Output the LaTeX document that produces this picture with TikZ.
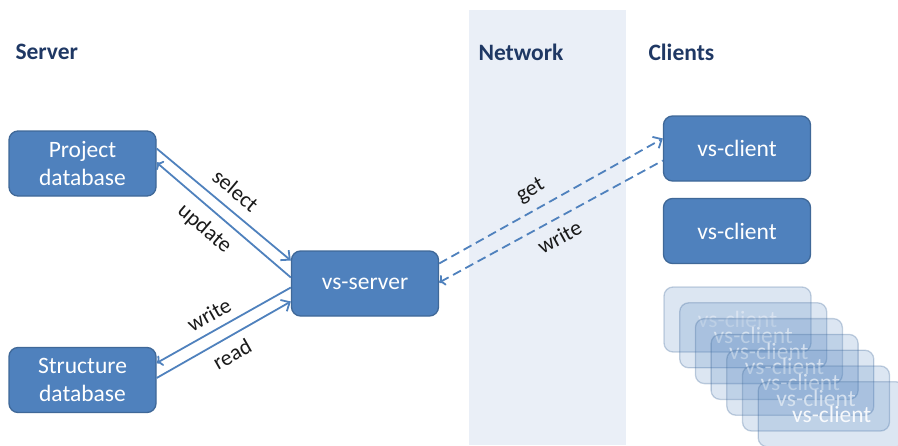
\documentclass[tikz,border=0pt]{standalone}
\usepackage{fontspec}
\setmainfont{Carlito}
\usetikzlibrary{arrows.meta}
\definecolor{boxblue}{HTML}{4F81BD}
\definecolor{boxline}{HTML}{3F6898}
\definecolor{headblue}{HTML}{1F3864}
\definecolor{netband}{HTML}{EAEFF7}
\definecolor{labelgrey}{HTML}{1A1A1A}
\tikzset{
    box/.style={draw=boxline, line width=1.3pt, fill=boxblue, rounded corners=9pt,
        minimum width=147pt, minimum height=65pt, inner sep=2pt, text=white, align=center,
        font=\fontsize{23.5}{28}\selectfont},
    ghost/.style={box, fill opacity=0.2, draw opacity=0.3, text opacity=0.9},
    head/.style={anchor=west, text=headblue, font=\fontsize{23.5}{26}\selectfont\bfseries},
    link/.style={draw=boxblue, line width=1.8pt, arrows={-Straight Barb[length=7pt,width=13pt]}},
    dlink/.style={link, dash pattern=on 9pt off 5pt},
    lbl/.style={text=labelgrey, font=\fontsize{22}{26}\selectfont, sloped, inner sep=1pt}
}
\begin{document}
\begin{tikzpicture}[x=1pt,y=-1pt]
    \clip (0,0) rectangle (898,445);
    \fill[netband] (469,10) rectangle (626,445);
    % column heads
    \node[head] (hserver) at (12,52) {Server};
    \node[head] (hnet) at (475,52) {Network};
    \node[head] (hclient) at (645,52) {Clients};
    % server side
    \node[box] (project) at (82.5,163.5) {Project\\database};
    \node[box] (structure) at (82.5,380) {Structure\\database};
    \node[box] (server) at (365,283.5) {vs-server};
    % clients
    \node[box] (client) at (737,148.5) {vs-client};
    \node[box] (client2) at (737,231) {vs-client};
    \foreach \k in {0,1,...,6} {
        \node[ghost] (ghost\k) at ({737.5+15.7*\k},{319.5+15.8*\k}) {vs-client};
    }
    % connections
    \draw[link] ([yshift=15pt]project.east) -- ([yshift=23pt]server.west)
        node[lbl, pos=0.5, above=9pt] {select};
    \draw[link, <-] ([yshift=1pt]project.east) -- ([yshift=6pt]server.west)
        node[lbl, pos=0.45, below=8pt] {update};
    \draw[link, <-] ([yshift=17pt]structure.east) -- ([yshift=-4pt]server.west)
        node[lbl, pos=0.45, above=7pt] {write};
    \draw[link] ([yshift=2pt]structure.east) -- ([yshift=-18pt]server.west)
        node[lbl, pos=0.5, below=7pt] {read};
    \draw[dlink] ([yshift=20pt]server.east) -- ([yshift=10pt]client.west)
        node[lbl, pos=0.45, above=8pt] {get};
    \draw[dlink, <-] ([yshift=1pt]server.east) -- ([yshift=-12pt]client.west)
        node[lbl, pos=0.5, below=8pt] {write};
\end{tikzpicture}
\end{document}
